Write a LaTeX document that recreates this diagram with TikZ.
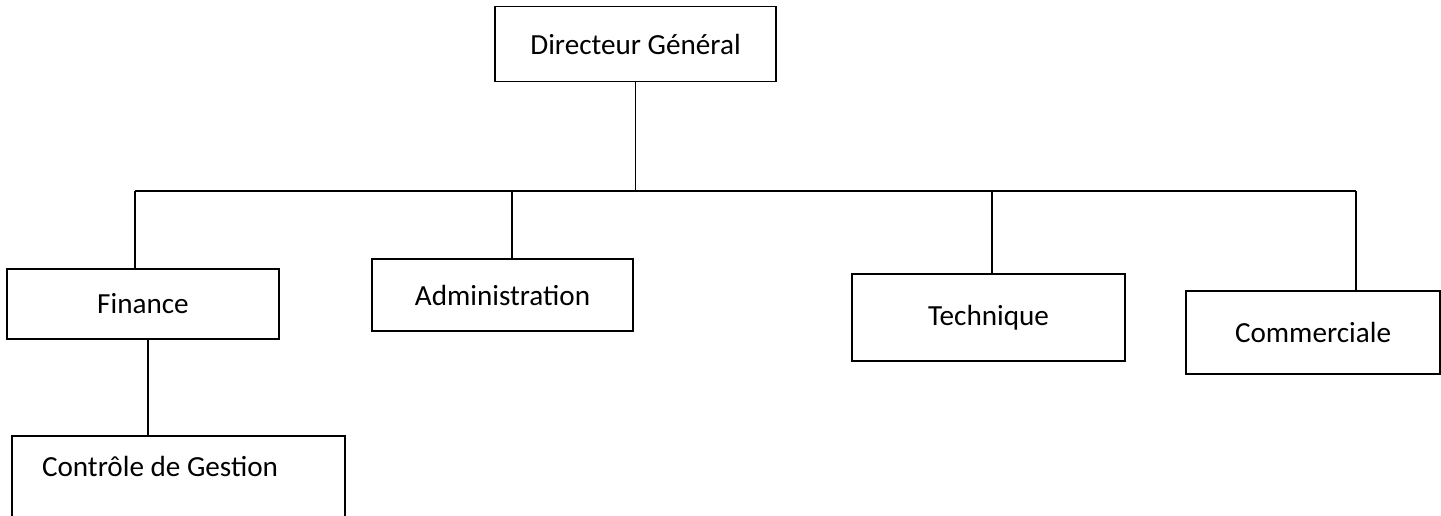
\documentclass[tikz,border=0pt]{standalone}
\usepackage{fontspec}
\setmainfont{Carlito}
\begin{document}
\begin{tikzpicture}[x=0.02cm,y=-0.02cm,line width=1.1pt,
    orgbox/.style={draw,rectangle,inner sep=2pt,font=\fontsize{16.6}{19}\selectfont}]
\useasboundingbox (0,0) rectangle (1441,515);
% boxes
    \node[orgbox,minimum width=5.62cm,minimum height=1.5cm] (dg) at (635.5,44) {Directeur Général};
    \node[orgbox,minimum width=5.44cm,minimum height=1.4cm] (fin) at (143,304) {Finance};
    \node[orgbox,minimum width=5.22cm,minimum height=1.44cm] (adm) at (502.5,295) {Administration};
    \node[orgbox,minimum width=5.46cm,minimum height=1.74cm] (tech) at (988.5,317.5) {Technique};
    \node[orgbox,minimum width=5.08cm,minimum height=1.66cm] (com) at (1313,332.5) {Commerciale};
    \node[orgbox,anchor=north,text width=5.46cm,align=flush left,inner xsep=0.6cm,inner ysep=0.3cm,
          text height=0.52cm,text depth=1cm] (cg) at (178.5,435) {Contrôle de Gestion};
% bus
    \coordinate (busF) at (135,191);
    \coordinate (busA) at (512,191);
    \coordinate (busT) at (992,191);
    \coordinate (busC) at (1356,191);
    \draw (dg.south) -- (dg.south |- busF);
    \draw (busF) -- (busC);
    \draw (busF) -- (busF |- fin.north);
    \draw (busA) -- (busA |- adm.north);
    \draw (busT) -- (busT |- tech.north);
    \draw (busC) -- (busC |- com.north);
    \draw ([xshift=0.1cm]fin.south) -- ([xshift=0.1cm]fin.south |- cg.north);
\end{tikzpicture}
\end{document}
